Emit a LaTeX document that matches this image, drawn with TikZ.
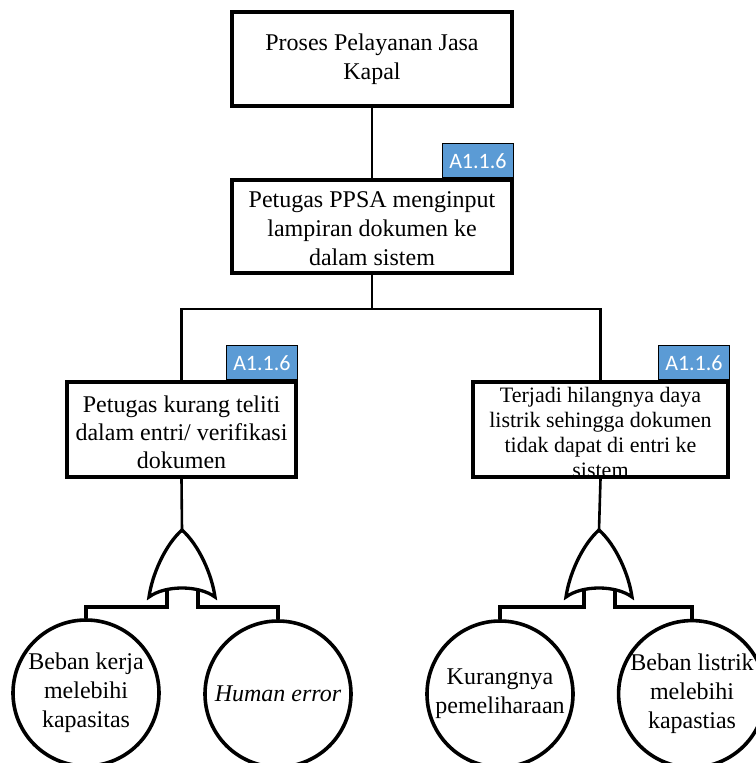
\documentclass[tikz,border=0pt]{standalone}
\usepackage{fontspec}
\setmainfont{Liberation Serif}
\newfontfamily\tagfont{Carlito}
\definecolor{tagblue}{HTML}{5B9BD5}
\begin{document}
\begin{tikzpicture}[x=1pt,y=-1pt,
  box/.style={draw=black, line width=3.6pt, fill=white, align=center, inner sep=0pt,
    font=\fontsize{24}{29}\selectfont},
  tag/.style={draw=black, line width=0.8pt, fill=tagblue, text=white, inner sep=0pt,
    minimum width=71, minimum height=34, font=\tagfont\fontsize{22}{24}\selectfont},
  event/.style={draw=black, line width=3.6pt, circle, minimum size=146, inner sep=0pt,
    align=center, font=\fontsize{24}{29}\selectfont},
  wire/.style={draw=black, line width=2.6pt},
  stub/.style={draw=black, line width=3.3pt},
  orgate/.pic={
    \draw[line width=3.3pt, line join=miter]
      (0,0) .. controls (-17,15) and (-30,45) .. (-33,67)
      .. controls (-17,55) and (17,55) .. (33,67)
      .. controls (30,45) and (17,15) .. (0,0) -- cycle;
    \coordinate (-top) at (0,0);
    \coordinate (-l) at (-15,60);
    \coordinate (-r) at (16,60);
  }]
\useasboundingbox (0,0) rectangle (755,763);

% top event and intermediate events
\node[box, minimum width=280, minimum height=94] (b1) at (372,59)
  {Proses Pelayanan Jasa\\Kapal};
\node[box, minimum width=280, minimum height=93] (b2) at (372,226.5) {};
\node[align=center, inner sep=0pt, font=\fontsize{24}{29}\selectfont] (b2t) at (372,229)
  {Petugas PPSA menginput\\lampiran dokumen ke\\dalam sistem};
\node[box, minimum width=229, minimum height=95] (b3) at (181.5,429.5) {};
\node[align=center, inner sep=0pt, font=\fontsize{24}{28}\selectfont] (b3t) at (181.5,432)
  {Petugas kurang teliti\\dalam entri/ verifikasi\\dokumen};
\node[box, minimum width=255, minimum height=95] (b4) at (600.5,429.5) {};
\node[align=center, inner sep=0pt, font=\fontsize{22}{25}\selectfont] (b4t) at (600.5,432)
  {Terjadi hilangnya daya\\listrik sehingga dokumen\\tidak dapat di entri ke\\sistem};

% reference tags
\node[tag, anchor=south east] (t2) at (b2.north east) {A1.1.6};
\node[tag, anchor=south east] (t3) at (b3.north east) {A1.1.6};
\node[tag, anchor=south east] (t4) at (b4.north east) {A1.1.6};

% OR gates
\pic (ga) at (182,530) {orgate};
\pic (gb) at (599,530) {orgate};

% basic events
\node[event] (c1) at (86,693) {Beban kerja\\melebihi\\kapasitas};
\node[event] (c2) at (278,694) {\itshape Human error};
\node[event] (c3) at (500,694) {Kurangnya\\pemeliharaan};
\node[event] (c4) at (692,694) {Beban listrik\\melebihi\\kapastias};

% connectors
\draw[wire] (b1.south) -- (b2.north);
\coordinate (split) at (372,309);
\draw[wire] (b2.south) -- (split);
\draw[wire] (split) -| (b3.north);
\draw[wire] (split) -| (b4.north);
\draw[wire] (b3.south) -- (ga-top);
\draw[wire] (b4.south) -- (gb-top);
\draw[stub] (ga-l) -- ++(0,17) -| (c1.north);
\draw[stub] (ga-r) -- ++(0,17) -| (c2.north);
\draw[stub] (gb-l) -- ++(0,17) -| (c3.north);
\draw[stub] (gb-r) -- ++(0,17) -| (c4.north);
\end{tikzpicture}
\end{document}
